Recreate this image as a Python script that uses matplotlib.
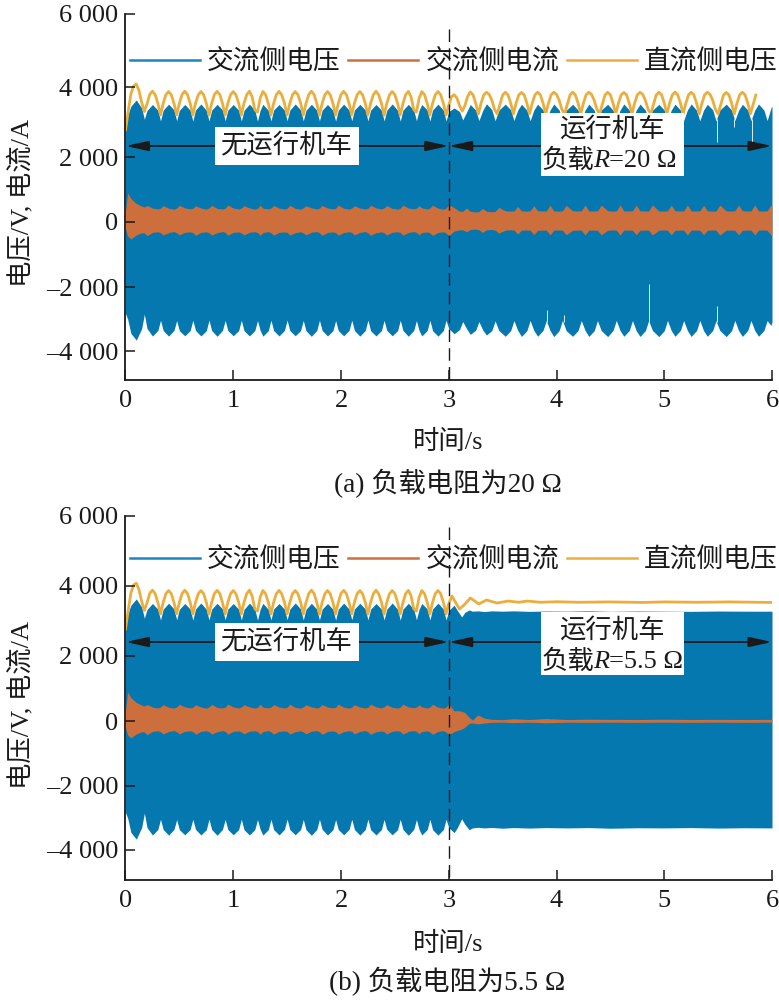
import numpy as np
import matplotlib
matplotlib.use('Agg')
import matplotlib.pyplot as plt
from matplotlib.lines import Line2D
from matplotlib.patches import Rectangle

plt.rcParams['font.family'] = ['Liberation Serif', 'Noto Sans CJK SC']
plt.rcParams['font.size'] = 19
plt.rcParams['text.color'] = '#1a1a1a'

BLUE = '#0578B0'
ORANGE = '#CC6F3C'
YELLOW = '#EBAE3C'
INK = '#1a1a1a'

y_ticks = [-4000, -2000, 0, 2000, 4000, 6000]
y_labels = ['\u20134 000', '\u20132 000', '0', '2 000', '4 000', '6 000']
x_ticks = [0, 1, 2, 3, 4, 5, 6]

# the printed y axis is not evenly spaced, pixel rows of bottom, ticks
y_anchor = [-4900, -4000, -2000, 0, 2000, 4000, 6000]
rows_a = [380, 351, 287, 222, 157, 87, 14]
rows_b = [880, 850, 786, 721, 656, 586, 516]

# dc side voltage, first 3 s, one sample every 0.025 s (both panels)
dc_left = [
    2770, 3300, 3800, 4030,
    4080, 3900, 3560, 3300, 3520, 3790,
    3880, 3785, 3535, 3200, 3535, 3780,
    3870, 3780, 3530, 3205, 3530, 3785,
    3880, 3785, 3540, 3200, 3535, 3775,
    3870, 3780, 3535, 3195, 3535, 3785,
    3875, 3785, 3530, 3200, 3535, 3780,
    3870, 3775, 3535, 3200, 3540, 3780,
    3880, 3720, 3350, 3280, 3680,
    3870, 3780, 3535, 3200, 3535, 3780,
    3875, 3775, 3535, 3205, 3535, 3780,
    3870, 3780, 3540, 3200, 3530, 3780,
    3880, 3785, 3535, 3195, 3535, 3775,
    3870, 3775, 3535, 3200, 3535, 3785,
    3875, 3780, 3530, 3205, 3540, 3780,
    3870, 3780, 3535, 3200, 3535, 3780,
    3880, 3775, 3540, 3195, 3535, 3775,
    3870, 3780, 3535, 3200, 3530, 3780,
    3875, 3720, 3350, 3280, 3680,
    3870, 3780, 3535, 3200, 3535, 3780,
    3870, 3780, 3535, 3200,
]

# dc side voltage, 3 to 6 s, panel a
dc_right_a = [
    3480, 3720,
    3780, 3690, 3470, 3310, 3470, 3730,
    3860, 3780, 3540, 3230, 3540, 3775,
    3850, 3790, 3620, 3360, 3230, 3500, 3770,
    3850, 3775, 3540, 3230, 3540, 3775,
    3845, 3775, 3540, 3235, 3540, 3775,
    3850, 3780, 3540, 3230, 3535, 3775,
    3850, 3790, 3620, 3360, 3230, 3500, 3770,
    3855, 3775, 3540, 3230, 3540, 3780,
    3850, 3790, 3620, 3360, 3235, 3500, 3770,
    3850, 3775, 3535, 3230, 3540, 3775,
    3845, 3775, 3540, 3230, 3540, 3775,
    3850, 3790, 3620, 3360, 3230, 3500, 3770,
    3850, 3780, 3540, 3235, 3540, 3775,
    3855, 3775, 3540, 3230, 3535, 3775,
    3850, 3775, 3540, 3230, 3540, 3780,
    3850, 3790, 3620, 3360, 3230, 3500, 3770,
    3845, 3775, 3540, 3230, 3540, 3775,
    3850, 3775, 3540, 3235, 3500,
    3770,
]

# dc side voltage, 3 to 6 s, panel b
t_dc_b = [3.0, 3.03, 3.065, 3.10, 3.15, 3.20, 3.24, 3.28, 3.35, 3.40, 3.45, 3.55,
          3.65, 3.73, 3.85, 4.0, 4.2, 4.5, 4.8, 5.0, 5.3, 5.6, 6.0]
dc_right_b = [3500, 3714, 3520, 3340, 3480, 3657, 3570, 3486, 3600, 3555, 3514, 3570,
              3535, 3570, 3535, 3550, 3535, 3545, 3530, 3545, 3535, 3545, 3530]

# envelope knots for the first 3 s, ac voltage and ac current
t_env_left = [
    0, 0.02, 0.05,
    0.10, 0.15, 0.175, 0.20,
    0.25, 0.30, 0.325, 0.35,
    0.40, 0.45, 0.475, 0.50,
    0.55, 0.60, 0.625, 0.65,
    0.70, 0.75, 0.775, 0.80,
    0.85, 0.90, 0.925, 0.95,
    1.00, 1.05, 1.075, 1.10,
    1.15, 1.20, 1.225, 1.25,
    1.275, 1.325, 1.35, 1.375,
    1.425, 1.475, 1.50, 1.525,
    1.575, 1.625, 1.65, 1.675,
    1.725, 1.775, 1.80, 1.825,
    1.875, 1.925, 1.95, 1.975,
    2.025, 2.075, 2.10, 2.125,
    2.175, 2.225, 2.25, 2.275,
    2.325, 2.375, 2.40, 2.425,
    2.475, 2.525, 2.55, 2.575,
    2.625, 2.675, 2.70, 2.725,
    2.75, 2.80, 2.825, 2.85,
    2.90, 2.95, 2.975, 3.0,
]
ac_up_left = [
    2770, 3200, 3450,
    3630, 3400, 3080, 3330,
    3500, 3340, 3030, 3340,
    3510, 3345, 3035, 3335,
    3500, 3340, 3025, 3345,
    3515, 3335, 3030, 3340,
    3505, 3345, 3035, 3340,
    3500, 3340, 3030, 3335,
    3510, 3340, 3025, 3340,
    3505, 3335, 3030, 3345,
    3500, 3340, 3035, 3340,
    3515, 3345, 3030, 3335,
    3505, 3340, 3030, 3340,
    3500, 3335, 3025, 3340,
    3510, 3340, 3035, 3345,
    3505, 3345, 3030, 3340,
    3500, 3340, 3030, 3335,
    3515, 3335, 3025, 3340,
    3505, 3340, 3035, 3340,
    3500, 3345, 3030, 3345,
    3510, 3340, 3030, 3300,
]
ac_low_left = [
    -2830, -3000, -3450,
    -3660, -3300, -2850, -3300,
    -3530, -3360, -3040, -3360,
    -3535, -3355, -3050, -3365,
    -3525, -3360, -3040, -3355,
    -3530, -3365, -3035, -3360,
    -3540, -3355, -3045, -3360,
    -3525, -3360, -3040, -3365,
    -3530, -3360, -3050, -3355,
    -3535, -3365, -3040, -3360,
    -3530, -3355, -3035, -3360,
    -3525, -3360, -3045, -3365,
    -3540, -3360, -3040, -3355,
    -3530, -3365, -3050, -3360,
    -3525, -3355, -3040, -3360,
    -3535, -3360, -3035, -3365,
    -3530, -3360, -3045, -3355,
    -3525, -3365, -3040, -3360,
    -3540, -3355, -3050, -3360,
    -3530, -3360, -3040, -3365,
    -3535, -3360, -3040, -3300,
]
or_up_left = [
    340, 890, 720,
    570, 490, 460, 510,
    430, 400, 430, 505,
    425, 395, 430, 515,
    435, 405, 420, 500,
    430, 395, 435, 510,
    420, 400, 425, 520,
    430, 400, 430, 500,
    435, 395, 420, 515,
    425, 405, 430, 505,
    430, 400, 425, 515,
    420, 395, 435, 500,
    435, 400, 430, 510,
    430, 405, 420, 520,
    425, 395, 430, 500,
    430, 400, 425, 515,
    435, 400, 435, 505,
    420, 395, 430, 520,
    430, 405, 425, 500,
    435, 400, 430, 515,
    425, 395, 430, 530,
]
or_low_left = [
    -200, -430, -520,
    -400, -330, -340, -420,
    -320, -300, -330, -400,
    -325, -295, -335, -395,
    -315, -305, -325, -410,
    -320, -300, -330, -400,
    -330, -295, -320, -405,
    -320, -305, -335, -395,
    -315, -300, -325, -410,
    -325, -295, -330, -405,
    -320, -305, -320, -400,
    -330, -300, -335, -395,
    -315, -295, -330, -410,
    -320, -305, -325, -405,
    -325, -300, -320, -395,
    -320, -295, -335, -410,
    -330, -305, -330, -400,
    -315, -300, -325, -405,
    -320, -295, -320, -395,
    -325, -305, -335, -410,
    -320, -300, -340, -420,
]

# same knots and series for 3 to 6 s, panel a
t_env_a = [
    3.05, 3.10, 3.13, 3.165,
    3.20, 3.25, 3.28, 3.315,
    3.35, 3.40, 3.43, 3.465,
    3.525, 3.575, 3.605, 3.64,
    3.675, 3.725, 3.755, 3.79,
    3.825, 3.875, 3.905, 3.94,
    3.975, 4.025, 4.055, 4.09,
    4.15, 4.20, 4.23, 4.265,
    4.30, 4.35, 4.38, 4.415,
    4.475, 4.525, 4.555, 4.59,
    4.625, 4.675, 4.705, 4.74,
    4.775, 4.825, 4.855, 4.89,
    4.95, 5.00, 5.03, 5.065,
    5.10, 5.15, 5.18, 5.215,
    5.25, 5.30, 5.33, 5.365,
    5.40, 5.45, 5.48, 5.515,
    5.575, 5.625, 5.655, 5.69,
    5.725, 5.775, 5.805, 5.84,
    5.875, 5.925, 5.955, 5.99,
    6.0,
]
ac_up_a = [
    3400, 3300, 3060, 3280,
    3500, 3340, 3040, 3330,
    3520, 3350, 3035, 3340,
    3510, 3345, 3040, 3340,
    3505, 3340, 3035, 3345,
    3510, 3345, 3040, 3340,
    3515, 3340, 3030, 3335,
    3505, 3345, 3035, 3340,
    3510, 3340, 3040, 3345,
    3505, 3335, 3030, 3340,
    3515, 3345, 3040, 3340,
    3510, 3340, 3035, 3335,
    3505, 3345, 3030, 3340,
    3510, 3340, 3040, 3345,
    3515, 3335, 3035, 3340,
    3505, 3345, 3030, 3340,
    3510, 3340, 3040, 3335,
    3505, 3345, 3035, 3340,
    3515, 3340, 3040, 3400,
    3450,
]
ac_low_a = [
    -3460, -3330, -3080, -3300,
    -3480, -3350, -3080, -3340,
    -3500, -3360, -3060, -3360,
    -3540, -3360, -3050, -3355,
    -3545, -3365, -3045, -3360,
    -3540, -3355, -3050, -3360,
    -3550, -3360, -3045, -3365,
    -3540, -3360, -3050, -3355,
    -3545, -3365, -3050, -3360,
    -3550, -3355, -3045, -3360,
    -3540, -3360, -3050, -3365,
    -3545, -3360, -3050, -3355,
    -3550, -3365, -3045, -3360,
    -3540, -3355, -3050, -3360,
    -3545, -3360, -3045, -3365,
    -3540, -3360, -3050, -3355,
    -3550, -3365, -3045, -3360,
    -3545, -3355, -3050, -3360,
    -3540, -3360, -3050, -3200,
    -3100,
]
or_up_a = [
    440, 330, 330, 430,
    330, 310, 320, 420,
    330, 315, 325, 450,
    345, 335, 340, 480,
    340, 335, 345, 500,
    345, 340, 340, 515,
    340, 335, 345, 510,
    345, 340, 340, 525,
    340, 340, 345, 520,
    345, 335, 340, 525,
    340, 340, 345, 515,
    345, 340, 340, 525,
    340, 335, 345, 520,
    345, 340, 340, 525,
    340, 340, 345, 515,
    345, 335, 340, 525,
    340, 340, 345, 520,
    345, 340, 340, 525,
    340, 335, 345, 525,
    530,
]
or_low_a = [
    -280, -240, -240, -300,
    -230, -220, -240, -320,
    -240, -230, -250, -340,
    -250, -240, -250, -370,
    -250, -245, -255, -385,
    -255, -250, -250, -395,
    -250, -245, -255, -390,
    -255, -250, -250, -400,
    -250, -250, -255, -395,
    -255, -245, -250, -400,
    -250, -250, -255, -390,
    -255, -250, -250, -400,
    -250, -245, -255, -395,
    -255, -250, -250, -400,
    -250, -250, -255, -390,
    -255, -245, -250, -400,
    -250, -250, -255, -395,
    -255, -250, -250, -400,
    -250, -245, -255, -400,
    -410,
]

# thin gaps in the ac voltage fill, panel a
gap_t = [5.49, 5.65, 5.81, 3.91, 4.07, 4.86, 5.49]
gap_from = [3100, 3100, 3100, -3100, -3100, -3100, -3100]
gap_to = [2430, 2860, 2430, -2725, -2880, -1900, -2600]

# 3 to 6 s, panel b
t_env_b = [3.05, 3.08, 3.12, 3.15, 3.19, 3.22, 3.27, 3.33, 3.40, 3.50, 3.60,
           3.75, 3.90, 4.10, 4.30, 4.50, 4.75, 5.00, 5.25, 5.50, 5.75, 6.00]
ac_up_b = [3450, 3300, 3115, 3250, 3314, 3280, 3290, 3270, 3290, 3280, 3290,
           3275, 3285, 3280, 3290, 3275, 3285, 3280, 3275, 3285, 3280, 3280]
ac_low_b = [-3457, -3300, -3023, -3200, -3364, -3310, -3290, -3310, -3295, -3320, -3300,
            -3315, -3300, -3310, -3300, -3320, -3305, -3310, -3300, -3315, -3305, -3310]
or_up_b = [310, 320, 300, 260, 110, 30, 185, 90, 50, 40, 70,
           45, 75, 45, 55, 50, 45, 55, 45, 50, 45, 50]
or_low_b = [-330, -290, -250, -190, -70, -60, -90, -60, -40, -35, -50,
            -35, -55, -35, -40, -35, -40, -35, -40, -35, -40, -35]

W, H = 779, 1000
LEFT, RIGHT = 125.5, 772


def px(x, y):
    return x / W, 1 - y / H


def make_axes(fig, rows):
    ax = fig.add_axes([LEFT / W, 1 - rows[0] / H, (RIGHT - LEFT) / W, (rows[0] - rows[-1]) / H])
    frac = [(rows[0] - r) / (rows[0] - rows[-1]) for r in rows]
    ax.set_yscale('function', functions=(lambda v: np.interp(v, y_anchor, frac),
                                         lambda f: np.interp(f, frac, y_anchor)))
    ax.set_xlim(0, 6)
    ax.set_ylim(-4900, 6000)
    ax.set_yticks(y_ticks, y_labels)
    ax.set_xticks(x_ticks)
    ax.minorticks_off()
    ax.tick_params(direction='in', length=7.2, width=1.1, color=INK, labelcolor=INK)
    ax.tick_params(axis='y', pad=5)
    ax.tick_params(axis='x', pad=7.5)
    ax.set_axisbelow(False)
    ax.patch.set_alpha(0)
    for side in ['top', 'right']:
        ax.spines[side].set_visible(False)
    for side in ['left', 'bottom']:
        ax.spines[side].set_linewidth(1.3)
        ax.spines[side].set_color(INK)
    return ax


def draw_panel(ax, t_env, ac_up, ac_low, or_up, or_low, t_dc, dc, dash_top, arrow_y, legend_row):
    ax.fill_between(t_env, ac_low, ac_up, color=BLUE, lw=0, zorder=1)
    ax.fill_between(t_env, or_low, or_up, color=ORANGE, lw=0, zorder=1.5)
    ax.plot(t_dc, dc, color=YELLOW, lw=2, zorder=2, solid_joinstyle='round')
    ax.plot([3, 3], [dash_top, -4900], color=INK, lw=1, dashes=(9, 4.5), zorder=2.2)
    for start, end in [(0, 3), (3, 6)]:
        ax.annotate('', xy=(end, arrow_y), xytext=(start, arrow_y), zorder=2.3,
                    arrowprops=dict(arrowstyle='<|-|>,head_length=1.0,head_width=0.22',
                                    mutation_scale=14, color=INK, lw=1.3,
                                    shrinkA=0, shrinkB=0))
    handles = [Line2D([], [], color='#1a86bd', lw=1.8),
               Line2D([], [], color=ORANGE, lw=1.8),
               Line2D([], [], color=YELLOW, lw=1.8)]
    ax.legend(handles, ['交流侧电压', '交流侧电流', '直流侧电压'], ncol=3, frameon=False,
              loc='center left', fontsize=19.3, handlelength=2.6, handletextpad=0.28,
              columnspacing=0.28, borderpad=0, borderaxespad=0,
              bbox_to_anchor=px(130, legend_row), bbox_transform=ax.figure.transFigure)


def label_panel(fig, rows, caption, caption_y, box_top, arrow_row, label_y, load_text):
    top = rows[-1]
    fig.text(*px(21, top + 189), '电压/V, 电流/A', rotation=90, ha='center', va='center')
    fig.text(*px(448, top + 428), '时间/s', ha='center', va='center')
    fig.text(*px(447.5, caption_y), caption, ha='center', va='center', fontsize=19.6)
    fig.text(*px(287, arrow_row), '无运行机车', ha='center', va='center', zorder=6,
             bbox=dict(facecolor='white', edgecolor='none', pad=4.5))
    fig.add_artist(Rectangle(px(541, box_top + 63), 143 / W, 63 / H, transform=fig.transFigure,
                             facecolor='white', edgecolor='none', zorder=5))
    fig.text(*px(612, label_y), '运行机车', ha='center', va='center', zorder=6)
    fig.text(*px(542, label_y + 32), '负载', ha='left', va='center', zorder=6)
    fig.text(*px(593, label_y + 32), 'R', ha='left', va='center', zorder=6,
             family='Liberation Serif', style='italic')
    fig.text(*px(609, label_y + 32), load_text, ha='left', va='center', zorder=6)


fig = plt.figure(figsize=(W / 100, H / 100), dpi=100)
ax_a = make_axes(fig, rows_a)
ax_b = make_axes(fig, rows_b)

t_dc_left = np.arange(len(dc_left)) * 0.025
t_dc_right = 3 + np.arange(len(dc_right_a)) * 0.025

draw_panel(ax_a, t_env_left + t_env_a, ac_up_left + ac_up_a, ac_low_left + ac_low_a,
           or_up_left + or_up_a, or_low_left + or_low_a,
           np.concatenate([t_dc_left, t_dc_right]), dc_left + dc_right_a, 5600, 2315, 63)
ax_a.vlines(gap_t, gap_from, gap_to, color='white', lw=0.6, zorder=1.2)

draw_panel(ax_b, t_env_left + t_env_b, ac_up_left + ac_up_b, ac_low_left + ac_low_b,
           or_up_left + or_up_b, or_low_left + or_low_b,
           np.concatenate([t_dc_left, t_dc_b]), dc_left + dc_right_b, 5690, 2400, 561)

label_panel(fig, rows_a, '(a) 负载电阻为20 Ω', 484, 113, 146, 129, '=20 Ω')
label_panel(fig, rows_b, '(b) 负载电阻为5.5 Ω', 982, 612, 642, 630, '=5.5 Ω')

fig.savefig('out.png', dpi=100)
plt.close(fig)
